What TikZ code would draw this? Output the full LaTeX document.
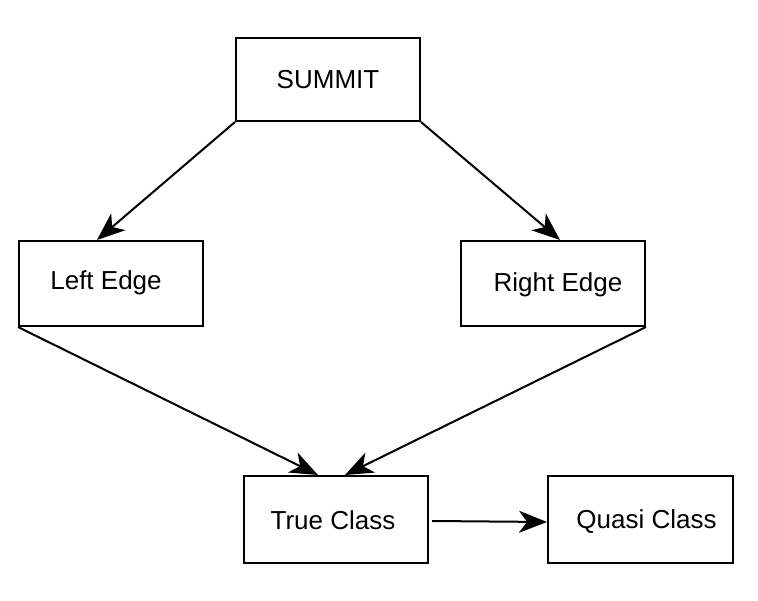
\documentclass[tikz,border=0pt]{standalone}
\usepackage{fontspec}
\setmainfont{Liberation Sans}
\usetikzlibrary{arrows.meta}

\begin{document}
\begin{tikzpicture}[x=1pt,y=-1pt,>={Stealth[length=28pt,width=22pt,inset=8pt]},
    font=\fontsize{26}{30}\selectfont,
    box/.style={draw,line width=2pt,minimum width=184pt,inner sep=0pt},
    link/.style={->,line width=2pt}]
  \useasboundingbox (0,0) rectangle (758,601);
  \node[box,minimum height=83pt] (summit) at (328,79.5) {SUMMIT};
  \node[box,minimum height=85pt,label={[xshift=-5pt,yshift=1pt]center:Left Edge}]
    (left) at (111,283.5) {};
  \node[box,minimum height=85pt,label={[xshift=5pt,yshift=-1pt]center:Right Edge}]
    (right) at (553,283.5) {};
  \node[box,minimum height=87pt,label={[xshift=-3pt,yshift=-1pt]center:True Class}]
    (true) at (336,519.5) {};
  \node[box,minimum height=87pt,minimum width=185pt,label={[xshift=6pt,yshift=-2pt]center:Quasi Class}]
    (quasi) at (640.5,519.5) {};
  \draw[link] (summit.south west) -- ([xshift=-14pt]left.north);
  \draw[link] (summit.south east) -- ([xshift=7pt]right.north);
  \draw[link] (left.south west) -- ([xshift=-18pt]true.north);
  \draw[link] (right.south east) -- ([xshift=9pt]true.north);
  \draw[link] ([xshift=3pt,yshift=-1.5pt]true.east) -- ([yshift=-2.5pt]quasi.west);
\end{tikzpicture}
\end{document}
